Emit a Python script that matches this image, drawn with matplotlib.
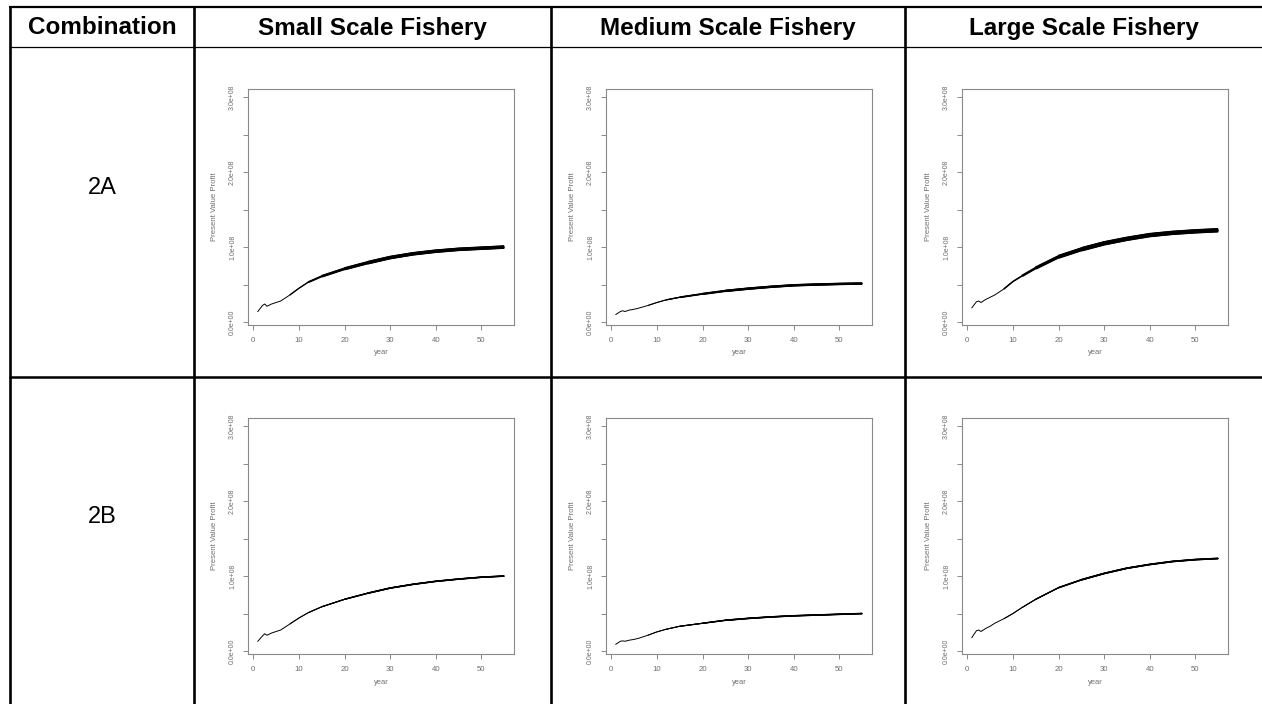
import numpy as np
import matplotlib
matplotlib.use("Agg")
import matplotlib.pyplot as plt
from matplotlib.lines import Line2D

# values, in units of 1e8 (present value profit)
years = [1, 2, 2.5, 3, 4, 5, 6, 8, 10, 12, 15, 20, 25, 30, 35, 40, 45, 50, 55]

small_2a = [0.14, 0.22, 0.24, 0.21, 0.24, 0.26, 0.28, 0.36, 0.45, 0.53, 0.61, 0.71, 0.79, 0.86, 0.91, 0.945, 0.97, 0.985, 1.0]
medium_2a = [0.10, 0.14, 0.15, 0.14, 0.16, 0.17, 0.185, 0.22, 0.26, 0.295, 0.33, 0.375, 0.415, 0.445, 0.47, 0.49, 0.50, 0.508, 0.513]
large_2a = [0.19, 0.27, 0.28, 0.26, 0.30, 0.33, 0.36, 0.44, 0.54, 0.615, 0.72, 0.87, 0.97, 1.05, 1.11, 1.16, 1.19, 1.21, 1.225]

small_2b = [0.13, 0.20, 0.23, 0.21, 0.24, 0.26, 0.28, 0.36, 0.44, 0.51, 0.59, 0.69, 0.77, 0.84, 0.89, 0.93, 0.96, 0.985, 1.0]
medium_2b = [0.09, 0.13, 0.135, 0.13, 0.145, 0.155, 0.17, 0.21, 0.255, 0.29, 0.33, 0.37, 0.41, 0.435, 0.455, 0.47, 0.48, 0.49, 0.50]
large_2b = [0.18, 0.27, 0.28, 0.26, 0.30, 0.33, 0.37, 0.43, 0.50, 0.58, 0.69, 0.845, 0.95, 1.035, 1.105, 1.155, 1.195, 1.22, 1.235]

headers = ["Combination", "Small Scale Fishery", "Medium Scale Fishery", "Large Scale Fishery"]
row_labels = ["2A", "2B"]
y_ticks = [0, 0.5e8, 1e8, 1.5e8, 2e8, 2.5e8, 3e8]
y_tick_labels = ["0.0e+00", "", "1.0e+08", "", "2.0e+08", "", "3.0e+08"]
x_ticks = [0, 10, 20, 30, 40, 50]

panels = {
    ("2A", 0): small_2a, ("2A", 1): medium_2a, ("2A", 2): large_2a,
    ("2B", 0): small_2b, ("2B", 1): medium_2b, ("2B", 2): large_2b,
}
# thicker where the simulated runs pile up
band_width = {
    ("2A", 0): 2.6, ("2A", 1): 1.8, ("2A", 2): 3.2,
    ("2B", 0): 1.2, ("2B", 1): 1.2, ("2B", 2): 1.3,
}

W, H = 1262, 704
fig = plt.figure(figsize=(W / 100, H / 100), dpi=100)

def fx(x):
    return x / W

def fy(y):
    return 1 - y / H

def rule(x0, y0, x1, y1, lw):
    fig.add_artist(Line2D([fx(x0), fx(x1)], [fy(y0), fy(y1)], color="black",
                          lw=lw, transform=fig.transFigure, solid_capstyle="butt"))

font = "Liberation Sans"
grey = "#6e6e6e"

# table grid
col_x = [10, 194, 551, 905, 1262]
rule(9, 7, 1262, 7, 1.6)
rule(9, 47, 1262, 47, 0.9)
rule(9, 377, 1262, 377, 1.8)
for x in col_x[:4]:
    rule(x, 6, x, 704, 1.9)

for i, h in enumerate(headers):
    cx = (col_x[i] + col_x[i + 1]) / 2
    fig.text(fx(cx), fy(28), h, ha="center", va="center", fontsize=17.5,
             fontweight="bold", family=font)

row_top = [89, 418]
ax_left = [248, 606, 962]
ax_w, ax_h = 266, 236

for r, lab in enumerate(row_labels):
    fig.text(fx(102), fy(row_top[r] + 99), lab, ha="center", va="center",
             fontsize=17, family=font)
    for c in range(3):
        ax = fig.add_axes([fx(ax_left[c]), fy(row_top[r] + ax_h), ax_w / W, ax_h / H])
        vals = np.array(panels[(lab, c)]) * 1e8
        yrs = np.array(years)
        bw = band_width[(lab, c)]
        ax.plot(yrs, vals, color="black", lw=0.7)
        # widen gradually along the curve
        for start, frac in [(8, 0.35), (12, 0.55), (15, 0.75), (20, 0.9), (25, 1.0)]:
            m = yrs >= start
            ax.plot(yrs[m], vals[m], color="black", lw=max(0.7, frac * bw),
                    solid_capstyle="butt")

        ax.set_xlim(-1.16, 57.16)
        ax.set_ylim(-0.04e8, 3.11e8)
        ax.set_xticks(x_ticks)
        ax.set_xticklabels([str(t) for t in x_ticks])
        ax.set_yticks(y_ticks)
        ax.set_yticklabels(y_tick_labels)
        ax.tick_params(axis="both", length=3.6, width=0.7, color="#8a8a8a",
                       labelcolor=grey, pad=5)
        ax.tick_params(axis="x", labelsize=5.6)
        ax.tick_params(axis="y", labelrotation=90, labelsize=5)
        for t in ax.get_yticklabels():
            t.set_va("center")
            t.set_family(font)
        for t in ax.get_xticklabels():
            t.set_family(font)
        for s in ax.spines.values():
            s.set_color("#8a8a8a")
            s.set_linewidth(0.8)
        ax.text(0.5, -28 / ax_h, "year", transform=ax.transAxes, ha="center",
                va="center", fontsize=5.4, color=grey, family=font)
        ax.text(-34 / ax_w, 0.5, "Present Value Profit", transform=ax.transAxes,
                ha="center", va="center", rotation=90, fontsize=5.6, color=grey,
                family=font)

fig.savefig("out.png", dpi=100)
